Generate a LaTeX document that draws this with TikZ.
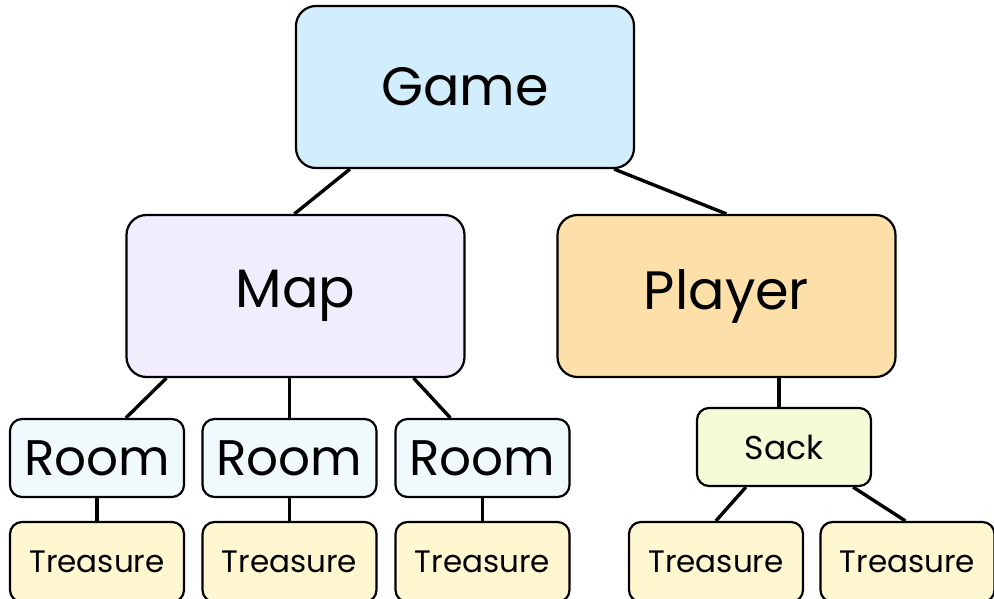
\documentclass[tikz,border=0pt]{standalone}
\usepackage{fontspec}
\setmainfont{Poppins}
\definecolor{gamefill}{HTML}{D2EDFC}
\definecolor{mapfill}{HTML}{F1EDFC}
\definecolor{playerfill}{HTML}{FCDFA9}
\definecolor{sackfill}{HTML}{F5FBD6}
\definecolor{roomfill}{HTML}{F0FAFD}
\definecolor{treasfill}{HTML}{FEF7D0}
\tikzset{
  box/.style={draw=black, line width=2.2pt, rounded corners=20pt, inner sep=0pt, align=center},
  bigbox/.style={box, minimum width=338pt, minimum height=162pt, font=\fontsize{54}{54}\selectfont},
  roombox/.style={box, fill=roomfill, rounded corners=12pt, minimum width=174pt, minimum height=78pt, font=\fontsize{50}{50}\selectfont},
  treasbox/.style={box, fill=treasfill, rounded corners=12pt, minimum width=174pt, minimum height=80pt, font=\fontsize{31}{31}\selectfont},
  sackbox/.style={box, fill=sackfill, rounded corners=12pt, minimum width=174pt, minimum height=78pt, font=\fontsize{33}{33}\selectfont},
  link/.style={line width=3.4pt}
}
\begin{document}
\begin{tikzpicture}[x=1pt,y=-1pt]
\useasboundingbox (0,0) rectangle (994,599);
\node[bigbox, fill=gamefill] (game) at (465,87) {Game};
\node[bigbox, fill=mapfill] (map) at (295.5,296) {Map};
\node[bigbox, fill=playerfill] (player) at (726.5,296) {Player};
\node[sackbox] (sack) at (784,447) {Sack};
\node[roombox] (room1) at (97,458) {Room};
\node[roombox] (room2) at (289.5,458) {Room};
\node[roombox] (room3) at (482.5,458) {Room};
\node[treasbox] (t1) at (97,562) {Treasure};
\node[treasbox] (t2) at (289.5,562) {Treasure};
\node[treasbox] (t3) at (482.5,562) {Treasure};
\node[treasbox] (t4) at (716,562) {Treasure};
\node[treasbox] (t5) at (907.5,562) {Treasure};
\draw[link] ([xshift=55pt]game.south west) -- ([xshift=169pt]map.north west);
\draw[link] ([xshift=-21pt]game.south east) -- ([xshift=170pt]player.north west);
\draw[link] ([xshift=41pt]map.south west) -- ([xshift=117pt]room1.north west);
\draw[link] (map.south -| room2.north) -- (room2.north);
\draw[link] ([xshift=-52pt]map.south east) -- ([xshift=56pt]room3.north west);
\draw[link] (room1.south) -- (t1.north);
\draw[link] (room2.south) -- (t2.north);
\draw[link] (room3.south) -- (t3.north);
\draw[link] ([xshift=-5pt]player.south -| sack.north) -- ([xshift=-5pt]sack.north);
\draw[link] ([xshift=50pt]sack.south west) -- ([xshift=88pt]t4.north west);
\draw[link] ([xshift=-19pt]sack.south east) -- ([xshift=86pt]t5.north west);
\end{tikzpicture}
\end{document}
